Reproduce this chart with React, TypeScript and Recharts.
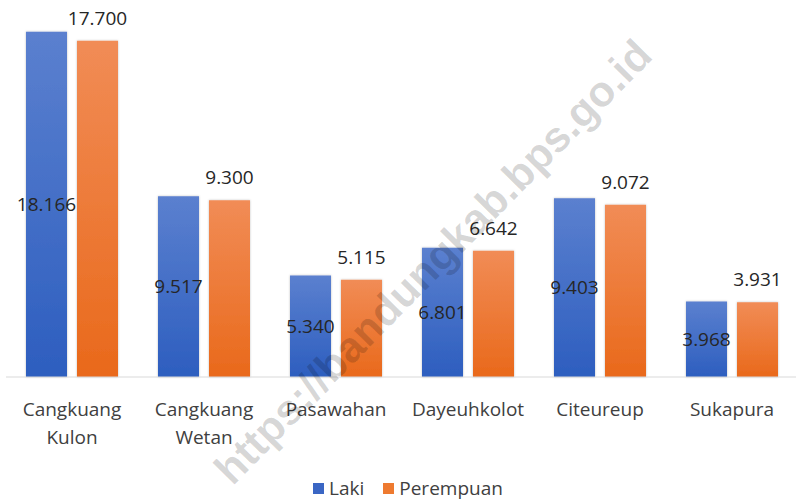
import React from "react";
import { BarChart, Bar, XAxis, YAxis, Legend, LabelList } from "recharts";

const desa = [
  "Cangkuang Kulon",
  "Cangkuang Wetan",
  "Pasawahan",
  "Dayeuhkolot",
  "Citeureup",
  "Sukapura",
];
const laki = [18166, 9517, 5340, 6801, 9403, 3968];
const perempuan = [17700, 9300, 5115, 6642, 9072, 3931];

const data = desa.map((d, i) => ({
  desa: d,
  laki: laki[i],
  perempuan: perempuan[i],
}));

const FONT = "'Open Sans', 'Noto Sans', sans-serif";

// angka format Indonesia: 18166 -> 18.166
const fmt = (v: number) => v.toLocaleString("de-DE");

function DesaTick(props: any) {
  const { x, y, payload } = props;
  const words = String(payload.value).split(" ");
  return (
    <text
      x={x}
      y={y}
      textAnchor="middle"
      fill="#404040"
      fontSize={19}
      fontFamily={FONT}
    >
      {words.map((w, i) => (
        <tspan key={i} x={x} dy={i === 0 ? 39 : 28}>
          {w}
        </tspan>
      ))}
    </text>
  );
}

function LegendBox() {
  const items = [
    { label: "Laki", color: "#3a66c4" },
    { label: "Perempuan", color: "#ee7a30" },
  ];
  return (
    <div
      style={{
        display: "flex",
        alignItems: "center",
        fontFamily: FONT,
        fontSize: 19,
        color: "#404040",
      }}
    >
      {items.map((it) => (
        <div
          key={it.label}
          style={{ display: "flex", alignItems: "center", marginRight: 19 }}
        >
          <span
            style={{
              width: 11,
              height: 11,
              background: it.color,
              display: "inline-block",
              marginRight: 5,
            }}
          />
          <span>{it.label}</span>
        </div>
      ))}
    </div>
  );
}

export default function App() {
  return (
    <div
      style={{
        position: "absolute",
        left: 0,
        top: 0,
        width: 796,
        height: 501,
        overflow: "hidden",
        background: "#fff",
      }}
    >
      <BarChart
        width={800}
        height={501}
        data={data}
        margin={{ top: 16, right: 2, bottom: 0, left: 6 }}
        barSize={41}
        barGap={10}
      >
        <defs>
          <linearGradient id="gradLaki" x1="0" y1="0" x2="0" y2="1">
            <stop offset="0%" stopColor="#5b80cf" />
            <stop offset="100%" stopColor="#2d5ebf" />
          </linearGradient>
          <linearGradient id="gradPerempuan" x1="0" y1="0" x2="0" y2="1">
            <stop offset="0%" stopColor="#f18c56" />
            <stop offset="100%" stopColor="#e9691b" />
          </linearGradient>
          <filter id="bayang" x="-10%" y="-5%" width="120%" height="110%">
            <feDropShadow dx="0" dy="0" stdDeviation="1" floodColor="#000" floodOpacity="0.25" />
          </filter>
        </defs>
        <XAxis
          dataKey="desa"
          interval={0}
          tickLine={false}
          tickSize={0}
          tickMargin={0}
          axisLine={{ stroke: "#d9d9d9" }}
          height={88}
          tick={<DesaTick />}
        />
        <YAxis hide domain={[0, 19000]} />
        <Legend
          verticalAlign="bottom"
          height={36}
          content={<LegendBox />}
          wrapperStyle={{ left: 313, width: 280, top: 475 }}
        />
        <Bar
          dataKey="laki"
          name="Laki"
          fill="url(#gradLaki)"
          filter="url(#bayang)"
          isAnimationActive={false}
        >
          <LabelList
            dataKey="laki"
            position="center"
            formatter={(v: any) => fmt(Number(v))}
            fill="#262626"
            fontSize={19}
            fontFamily={FONT}
          />
        </Bar>
        <Bar
          dataKey="perempuan"
          name="Perempuan"
          fill="url(#gradPerempuan)"
          filter="url(#bayang)"
          isAnimationActive={false}
        >
          <LabelList
            dataKey="perempuan"
            position="top"
            offset={16}
            formatter={(v: any) => fmt(Number(v))}
            fill="#262626"
            fontSize={19}
            fontFamily={FONT}
          />
        </Bar>
      </BarChart>
      <div
        style={{
          position: "absolute",
          left: 433,
          top: 262,
          transform: "translate(-50%, -50%) rotate(-45.5deg)",
          whiteSpace: "nowrap",
          fontFamily: "'Liberation Sans', Arial, sans-serif",
          fontWeight: 700,
          fontSize: 43,
          color: "rgba(0,0,0,0.16)",
          pointerEvents: "none",
        }}
      >
        https://bandungkab.bps.go.id
      </div>
    </div>
  );
}
